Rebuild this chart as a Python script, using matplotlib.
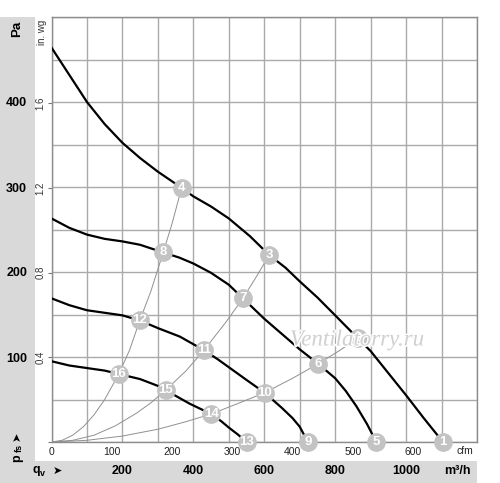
import matplotlib
matplotlib.use("Agg")
import matplotlib.pyplot as plt
import matplotlib.patheffects as pe
from matplotlib.patches import Rectangle

plt.rcParams['font.family'] = ['Liberation Sans', 'DejaVu Sans']

# fan curves: flow (m3/h) vs static pressure (Pa)
curve1_q = [0, 50, 100, 150, 200, 250, 300, 367, 400, 450, 500, 560, 614, 660, 700, 750, 800, 864,
            900, 950, 1000, 1050, 1104]
curve1_p = [464, 432, 400, 374, 352, 334, 318, 299, 289, 277, 263, 242, 220, 205, 189, 170, 149, 122,
            107, 81, 55, 28, 0]
curve2_q = [0, 50, 100, 150, 200, 250, 315, 360, 400, 450, 500, 540, 600, 650, 700, 752, 800, 830,
            860, 890, 916]
curve2_p = [263, 252, 244, 239, 236, 232, 223, 217, 210, 199, 185, 169, 145, 127, 109, 92, 75, 60,
            42, 21, 0]
curve3_q = [0, 50, 100, 150, 200, 249, 300, 362, 430, 470, 500, 550, 601, 650, 680, 700, 723]
curve3_p = [169, 161, 155, 152, 149, 143, 134, 124, 108, 97, 88, 73, 58, 40, 28, 18, 0]
curve4_q = [0, 50, 100, 150, 190, 250, 300, 322, 360, 390, 420, 451, 480, 500, 525, 550]
curve4_p = [95, 90, 87, 84, 80, 74, 66, 61, 52, 45, 39, 33, 24, 17, 9, 0]

# system curves
sysA_q = [0, 30, 60, 90, 120, 150, 190, 220, 249, 280, 315, 340, 367]
sysA_p = [0, 2, 8, 18, 32, 50, 80, 108, 143, 177, 223, 257, 299]
sysB_q = [0, 60, 120, 180, 240, 280, 322, 380, 430, 490, 540, 580, 614]
sysB_p = [0, 2, 8, 19, 34, 46, 61, 84, 108, 140, 169, 196, 220]
sysC_q = [0, 100, 200, 300, 380, 451, 530, 601, 680, 752, 810, 864]
sysC_p = [0, 2, 7, 15, 24, 33, 46, 58, 75, 92, 107, 122]

# operating points
pt_num = list(range(1, 17))
pt_q = [1104, 864, 614, 367, 916, 752, 540, 315, 723, 601, 430, 249, 550, 451, 322, 190]
pt_p = [0, 122, 220, 299, 0, 92, 169, 223, 0, 58, 108, 143, 0, 33, 61, 80]

pa_ticks = [0, 100, 200, 300, 400, 500]
pa_labels = ['', '100', '200', '300', '400', '']
m3h_ticks = [0, 200, 400, 600, 800, 1000, 1200]
m3h_labels = ['', '200', '400', '600', '800', '1000', '']
cfm_ticks = [0, 100, 200, 300, 400, 500, 600]
inwg_ticks = [0, 0.4, 0.8, 1.2, 1.6]
inwg_labels = ['', '0.4', '0.8', '1.2', '1.6']

W, H = 500, 483
fig = plt.figure(figsize=(5, 4.83), dpi=100)
band = '#d9d9d9'
# grey bands go under the axes (zorder -1) so the tick labels stay visible
fig.patches.append(Rectangle((0, 0), 35 / W, (H - 17) / H, transform=fig.transFigure,
                             facecolor=band, edgecolor='none', zorder=-1))
fig.patches.append(Rectangle((0, 0), 477 / W, 22 / H, transform=fig.transFigure,
                             facecolor=band, edgecolor='none', zorder=-1))

ax = fig.add_axes([51.5 / W, 41 / H, 425.5 / W, 425 / H])
ax.set_xlim(0, 1200)
ax.set_ylim(0, 500)

# secondary scales: cfm below, in. wg on the left
secx = ax.secondary_xaxis('bottom', functions=(lambda q: q / 1.699, lambda c: c * 1.699))
secx.set_xticks(cfm_ticks)
secx.tick_params(length=0, pad=3.5, labelsize=7.5, labelcolor='#222222')
secx.spines['bottom'].set_visible(False)

secy = ax.secondary_yaxis('left', functions=(lambda p: p / 249.09, lambda w: w * 249.09))
secy.set_yticks(inwg_ticks)
secy.set_yticklabels(inwg_labels, rotation=90, va='center', fontsize=7, color='#333333')
secy.tick_params(length=3, width=0.8, color='#777777', pad=1.5)
secy.spines['left'].set_visible(False)

# main scales: m3/h and Pa (bold labels in the grey bands)
ax.set_xticks(m3h_ticks)
ax.set_xticklabels(m3h_labels, fontsize=9, fontweight='bold')
ax.set_xticks(range(0, 1201, 100), minor=True)
ax.set_yticks(pa_ticks)
ax.set_yticklabels(pa_labels, fontsize=9, fontweight='bold')
ax.set_yticks(range(0, 501, 50), minor=True)
ax.tick_params(axis='x', which='both', length=0, pad=16.5)
ax.tick_params(axis='y', which='both', length=0, pad=17.5)
ax.grid(True, which='both', color='#aaaaaa', lw=1.0)
ax.set_axisbelow(True)
for s in ax.spines.values():
    s.set_color('#8c8c8c')
    s.set_linewidth(1.0)

for q, p in [(sysA_q, sysA_p), (sysB_q, sysB_p), (sysC_q, sysC_p)]:
    ax.plot(q, p, color='#909090', lw=0.7, zorder=3)
for q, p in [(curve1_q, curve1_p), (curve2_q, curve2_p), (curve3_q, curve3_p), (curve4_q, curve4_p)]:
    ax.plot(q, p, color='black', lw=1.6, zorder=4, solid_joinstyle='round')

ax.plot(pt_q, pt_p, 'o', ms=13.5, mfc='#c3c3c3', mec='none', zorder=6, clip_on=False)
for n, q, p in zip(pt_num, pt_q, pt_p):
    ax.text(q, p, str(n), ha='center', va='center', color='white', fontsize=9.5,
            fontweight='bold', zorder=7, clip_on=False)

wm = fig.text(357 / W, 1 - 340 / H, 'Ventilatorry.ru', ha='center', va='center',
              fontsize=16.5, style='italic', family='Liberation Serif', color='#d0d0d0', zorder=10)
wm.set_path_effects([pe.withStroke(linewidth=2, foreground='white')])


def ftext(x, y, s, **kw):
    fig.text(x / W, 1 - y / H, s, **kw)


ftext(17, 29, 'Pa', rotation=90, ha='center', va='center', fontsize=9.5, fontweight='bold')
ftext(42, 32, 'in. wg', rotation=90, ha='center', va='center', fontsize=7, color='#333333')
ftext(17, 458, 'p', rotation=90, ha='center', va='center', fontsize=9, fontweight='bold')
ftext(19, 448, 'fs', rotation=90, ha='center', va='center', fontsize=6.5, fontweight='bold')
ftext(17, 436, '\u27a4', rotation=90, ha='center', va='center', fontsize=8)
ftext(36, 470, 'q', ha='center', va='center', fontsize=9, fontweight='bold')
ftext(40, 473, 'v', ha='left', va='center', fontsize=6.5, fontweight='bold')
ftext(57, 471, '\u27a4', ha='center', va='center', fontsize=8)
ftext(457.5, 471, 'm³/h', ha='center', va='center', fontsize=9, fontweight='bold')
ftext(464.5, 451, 'cfm', ha='center', va='center', fontsize=7.5, color='#222222')

fig.savefig('out.png', dpi=100, facecolor='white')
